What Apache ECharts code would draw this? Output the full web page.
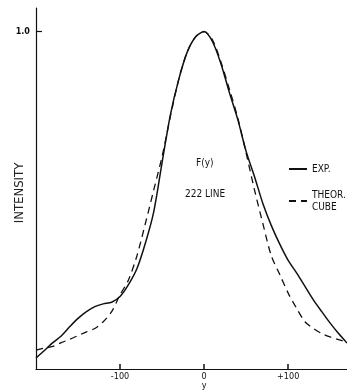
<!DOCTYPE html>
<html>
<head>
<meta charset="utf-8">
<script src="https://cdn.jsdelivr.net/npm/echarts@6/dist/echarts.min.js"></script>
<style>
  html, body { margin: 0; padding: 0; background: #fff; }
  #chart { width: 347px; height: 392px; }
</style>
</head>
<body>
<div id="chart"></div>
<script>
// y position (x axis of the plot)
var yPos = [-200, -190, -180, -170, -160, -150, -140, -130, -120, -110, -100, -90, -80, -70, -60, -50, -40, -30, -20, -10,
            0, 10, 20, 30, 40, 50, 60, 70, 80, 90, 100, 110, 120, 130, 140, 150, 160, 170];
// experimental curve (solid)
var expValues = [0.033, 0.055, 0.078, 0.098, 0.125, 0.150, 0.170, 0.185, 0.193, 0.198, 0.215, 0.250, 0.297, 0.372, 0.465, 0.612, 0.755, 0.860, 0.940, 0.985,
                 1.000, 0.970, 0.905, 0.820, 0.740, 0.645, 0.570, 0.490, 0.425, 0.370, 0.322, 0.285, 0.245, 0.205, 0.170, 0.136, 0.105, 0.077];
// theoretical cube curve (dashed)
var theorValues = [0.056, 0.062, 0.067, 0.078, 0.088, 0.099, 0.110, 0.120, 0.140, 0.170, 0.220, 0.264, 0.335, 0.430, 0.530, 0.630, 0.750, 0.860, 0.940, 0.985,
                   1.000, 0.975, 0.910, 0.830, 0.745, 0.640, 0.530, 0.430, 0.335, 0.280, 0.225, 0.180, 0.140, 0.120, 0.105, 0.095, 0.087, 0.080];
var xTicks = [-100, 0, 100];
var xTickLabels = {'-100': '-100', '0': '0\ny', '100': '+100'};
var yTicks = [1.0];

var font = '"Liberation Sans Narrow", "DejaVu Sans Condensed", "DejaVu Sans", sans-serif';
var ink = '#111';

function pairs(xs, ys) {
  var out = [];
  for (var i = 0; i < xs.length; i++) out.push([xs[i], ys[i]]);
  return out;
}

var myChart = echarts.init(document.getElementById('chart'));
var option = {
  backgroundColor: '#fff',
  animation: false,
  grid: { left: 36, right: 0, top: 8, bottom: 23, outerBoundsMode: 'none', containLabel: false },
  legend: {
    orient: 'vertical',
    left: 283,
    top: 158,
    itemWidth: 18,
    itemHeight: 10,
    itemGap: 14,
    itemStyle: { color: 'rgba(0,0,0,0)', borderWidth: 0 },
    textStyle: { fontFamily: font, fontSize: 10, color: ink, lineHeight: 12 },
    data: ['EXP.', 'THEOR.\nCUBE']
  },
  xAxis: {
    type: 'value',
    min: -200,
    max: 170,
    axisLine: { lineStyle: { color: ink, width: 1.2 } },
    axisTick: { inside: true, length: 5, customValues: xTicks, lineStyle: { color: ink, width: 1.5 } },
    axisLabel: {
      customValues: xTicks,
      fontFamily: font, fontSize: 9, color: ink, margin: 3, lineHeight: 9,
      formatter: function (v) { return xTickLabels[String(v)]; }
    },
    splitLine: { show: false }
  },
  yAxis: {
    type: 'value',
    min: 0,
    max: 1.07,
    axisLine: { show: true, onZero: false, lineStyle: { color: ink, width: 1.2 } },
    axisTick: { show: true, inside: true, length: 6, customValues: yTicks, lineStyle: { color: ink, width: 1.2 } },
    axisLabel: {
      customValues: yTicks,
      fontFamily: font, fontSize: 9, fontWeight: 'bold', color: ink, margin: 6,
      formatter: function (v) { return v.toFixed(1); }
    },
    splitLine: { show: false }
  },
  graphic: [
    // axis title
    { type: 'text', x: 20, y: 193, rotation: Math.PI / 2,
      style: { text: 'INTENSITY', fontFamily: font, fontSize: 13, fill: '#222', align: 'center', verticalAlign: 'middle' } },
    { type: 'text', left: 196, top: 158, style: { text: 'F(y)', fontFamily: font, fontSize: 10, fill: ink } },
    { type: 'text', left: 185, top: 189, style: { text: '222 LINE', fontFamily: font, fontSize: 10, fill: ink } }
  ],
  series: [
    {
      name: 'EXP.',
      type: 'line',
      smooth: 0.3,
      symbol: 'none',
      data: pairs(yPos, expValues),
      lineStyle: { color: ink, width: 1.5 },
      itemStyle: { color: ink }
    },
    {
      name: 'THEOR.\nCUBE',
      type: 'line',
      smooth: 0.3,
      symbol: 'none',
      data: pairs(yPos, theorValues),
      lineStyle: { color: ink, width: 1.3, type: [7, 5] },
      itemStyle: { color: ink }
    }
  ]
};
myChart.setOption(option);
</script>
</body>
</html>
